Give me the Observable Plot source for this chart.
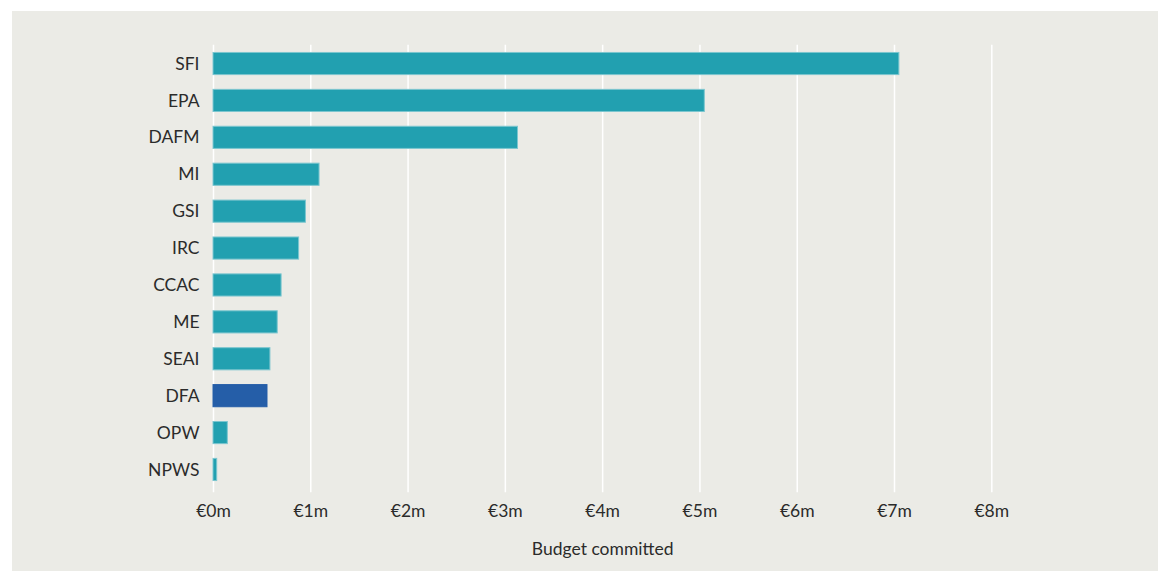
<!DOCTYPE html>
<html>
<head>
<meta charset="utf-8">
<script src="https://cdn.jsdelivr.net/npm/d3@7"></script>
<script src="https://cdn.jsdelivr.net/npm/@observablehq/plot@0.6"></script>
<style>
  html, body { margin: 0; padding: 0; background: #ffffff; }
  #wrap { position: absolute; left: 12px; top: 11px; width: 1146px; height: 560px; background: #ebebe6; }
  svg { display: block; }
</style>
</head>
<body>
<div id="wrap"></div>
<script>
const agencies = ["SFI", "EPA", "DAFM", "MI", "GSI", "IRC", "CCAC", "ME", "SEAI", "DFA", "OPW", "NPWS"];
const budget = [7.05, 5.05, 3.13, 1.09, 0.95, 0.88, 0.70, 0.66, 0.585, 0.555, 0.147, 0.038];
const highlighted = ["DFA"];
const xTicks = [0, 1, 2, 3, 4, 5, 6, 7, 8];

const data = agencies.map((a, i) => ({agency: a, value: budget[i], hl: highlighted.includes(a)}));

const chart = Plot.plot({
  width: 1146,
  height: 560,
  marginLeft: 201,
  marginRight: 166.7,
  marginTop: 26.7,
  marginBottom: 75.7,
  style: {background: "transparent", fontFamily: "Lato, 'Noto Sans', sans-serif", fontSize: "17.5px", color: "#2b2b2b"},
  x: {domain: [0, 8]},
  y: {domain: agencies, padding: 0.4, round: false},
  marks: [
    Plot.gridX(xTicks, {stroke: "#ffffff", strokeOpacity: 1, strokeWidth: 1.5, insetTop: 7, insetBottom: 3}),
    Plot.barX(data, {
      x: "value", y: "agency",
      fill: d => d.hl ? "#255ea8" : "#22a0b0",
      stroke: d => d.hl ? "#255ea8" : "#7cc6cf",
      strokeWidth: 1
    }),
    Plot.axisX(xTicks, {
      tickSize: 0, tickPadding: 9, fontSize: 17.5, fill: "#2b2b2b",
      tickFormat: d => `€${d}m`,
      label: "Budget committed", labelAnchor: "center", labelArrow: "none", labelOffset: 59
    }),
    Plot.axisY({tickSize: 0, tickPadding: 14, fontSize: 17.5, fill: "#2b2b2b", label: null})
  ]
});
document.getElementById("wrap").appendChild(chart);
</script>
</body>
</html>
